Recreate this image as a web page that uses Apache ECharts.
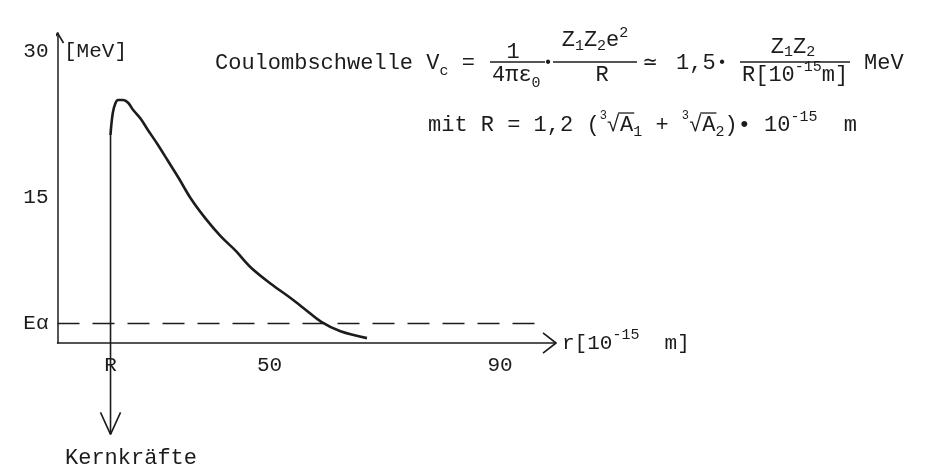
<!DOCTYPE html>
<html><head><meta charset="utf-8">
<script src="https://cdn.jsdelivr.net/npm/echarts@6/dist/echarts.min.js"></script>
<style>html,body{margin:0;padding:0;background:#fff}#c{width:936px;height:471px}</style>
</head><body><div id="c"></div>
<script>
const FONT = '"Liberation Mono", "DejaVu Sans Mono", monospace';
const INK = '#1c1c1c';

// Coulomb barrier curve: r [10^-15 m] and V [MeV]
const curveR = [22.4, 22.5, 22.8, 23.2, 23.7, 24.6, 25.5, 26.3, 27.6, 28.8, 30.5, 32.3, 34.2, 36.3, 38.9, 41.5, 44.1, 46.7, 50.2, 53.7, 56.3, 58.9, 62.3, 66.9];
const curveV = [21.4, 22.2, 23.7, 24.6, 25.0, 25.0, 24.7, 24.0, 23.1, 22.0, 20.5, 18.8, 17.0, 14.9, 12.8, 11.0, 9.5, 7.8, 6.1, 4.6, 3.4, 2.2, 1.2, 0.5];
const nuclearRadius = 22.4;     // R
const kernTop = 21.4;           // top of the vertical wall
const kernTip = -9.4;           // tip of the "Kernkräfte" arrow
const alphaEnergy = 2;          // Eα
const alphaLineEnd = 98;
const xTickValues = [22.4, 50, 90];
const xTickLabels = ['R', '50', '90'];
const yTickValues = [2, 15, 30];
const yTickLabels = ['Eα', '15', '30'];
const xMin = 13.2, xMax = 99.7, yMin = 0, yMax = 31.9;

const chart = echarts.init(document.getElementById('c'), null, {renderer: 'canvas'});

const ctx = document.createElement('canvas').getContext('2d');
function tw(t, size) { ctx.font = size + 'px ' + FONT; return ctx.measureText(t).width; }
const graphics = [];
function txt(x, y, t, size, align) {
  graphics.push({type: 'text', x: x, y: y, silent: true,
    style: {text: t, font: size + 'px ' + FONT, fill: INK, textAlign: align || 'left', textVerticalAlign: 'middle', verticalAlign: 'middle'}});
}
function hline(x1, x2, y, w) {
  graphics.push({type: 'line', silent: true, shape: {x1: x1, y1: y, x2: x2, y2: y}, style: {stroke: INK, lineWidth: w || 1.3}});
}
// pieces: [text, size, dy, overline]
function flowWidth(pieces) { return pieces.reduce((s, p) => s + tw(p[0], p[1]), 0); }
function flow(x, y, pieces) {
  pieces.forEach(p => {
    const w = tw(p[0], p[1]);
    txt(x, y + (p[2] || 0), p[0], p[1]);
    if (p[3]) hline(x - 2, x + w + 1, y - 12, 1.3);
    x += w;
  });
  return x;
}
function flowCenter(cx, y, pieces) { return flow(cx - flowWidth(pieces) / 2, y, pieces); }

// ---- formula line 1
const L1 = 63;
flow(215, L1, [['Coulombschwelle V', 22], ['c', 15, 8], [' =', 22]]);
hline(490, 545, L1 - 1);
flowCenter(513, L1 - 11, [['1', 22]]);
flow(492, L1 + 12, [['4πε', 22], ['0', 15, 8]]);
txt(548, L1, '•', 16, 'center');
hline(553, 637, L1 - 1);
flowCenter(595, L1 - 23, [['Z', 22], ['1', 15, 6], ['Z', 22], ['2', 15, 6], ['e', 22], ['2', 15, -7]]);
flowCenter(602, L1 + 12, [['R', 22]]);
txt(650, L1, '≃', 22, 'center');
flow(676, L1, [['1,5', 22]]);
txt(722, L1, '•', 16, 'center');
hline(740, 850, L1 - 1);
flowCenter(793, L1 - 16, [['Z', 22], ['1', 15, 5], ['Z', 22], ['2', 15, 5]]);
flow(742, L1 + 12, [['R[10', 22], ['-15', 15, -8], ['m]', 22]]);
flow(864, L1, [['MeV', 22]]);

// ---- formula line 2
const L2 = 125;
flow(428, L2, [['mit R = 1,2 (', 22], ['3', 12, -9], ['√', 22], ['A', 22, 0, true], ['1', 15, 7], [' + ', 22],
  ['3', 12, -9], ['√', 22], ['A', 22, 0, true], ['2', 15, 7], [')• 10', 22], ['-15', 15, -8], ['  m', 22]]);

// ---- axis names and annotation
flow(64, 51, [['[MeV]', 21]]);
flow(562, 343, [['r[10', 21], ['-15', 15, -8], ['  m]', 21]]);
flow(65, 458, [['Kernkräfte', 22]]);

const lineStyle = (w, type) => ({color: INK, width: w, type: type || 'solid'});
const plain = (name, data, w, extra) => Object.assign({
  type: 'line', name: name, data: data, symbol: 'none', showSymbol: false, clip: false,
  lineStyle: lineStyle(w), silent: true, animation: false
}, extra || {});

const armX = 1.05, armY = 1.03;
chart.setOption({
  animation: false,
  backgroundColor: '#fff',
  grid: {left: 57.5, right: 936 - 556, top: 33, bottom: 471 - 343},
  xAxis: {
    type: 'value', min: xMin, max: xMax,
    axisLine: {show: true, onZero: false, lineStyle: {color: INK, width: 1.5}},
    axisTick: {show: false}, splitLine: {show: false},
    axisLabel: {customValues: xTickValues, margin: 12, color: INK, fontFamily: FONT, fontSize: 21,
      formatter: v => { const i = xTickValues.findIndex(t => Math.abs(t - v) < 1e-6); return i >= 0 ? xTickLabels[i] : ''; }}
  },
  yAxis: {
    type: 'value', min: yMin, max: yMax,
    axisLine: {show: true, onZero: false, lineStyle: {color: INK, width: 1.5}},
    axisTick: {show: false}, splitLine: {show: false},
    axisLabel: {customValues: yTickValues, margin: 9, color: INK, fontFamily: FONT, fontSize: 21,
      formatter: v => { const i = yTickValues.findIndex(t => Math.abs(t - v) < 1e-6); return i >= 0 ? yTickLabels[i] : ''; }}
  },
  series: [
    plain('Eα', [[xMin, alphaEnergy], [alphaLineEnd, alphaEnergy]], 1.6, {lineStyle: lineStyle(1.6, [22, 13])}),
    plain('Kernkräfte', [[nuclearRadius, kernTip], [nuclearRadius, kernTop]], 1.6),
    plain('Kernkräfte arrow', [[nuclearRadius - 1.74, kernTip + 2.26], [nuclearRadius, kernTip], [nuclearRadius + 1.74, kernTip + 2.26]], 1.6),
    plain('Coulombschwelle', curveR.map((r, i) => [r, curveV[i]]), 2.6, {smooth: 0.35}),
    plain('y arrow', [[xMin - armX, yMax - armY], [xMin, yMax], [xMin + armX, yMax - armY]], 1.6),
    plain('x arrow', [[xMax - 2.26, armY], [xMax, 0], [xMax - 2.26, -armY]], 1.6)
  ],
  graphic: graphics
});
</script></body></html>
